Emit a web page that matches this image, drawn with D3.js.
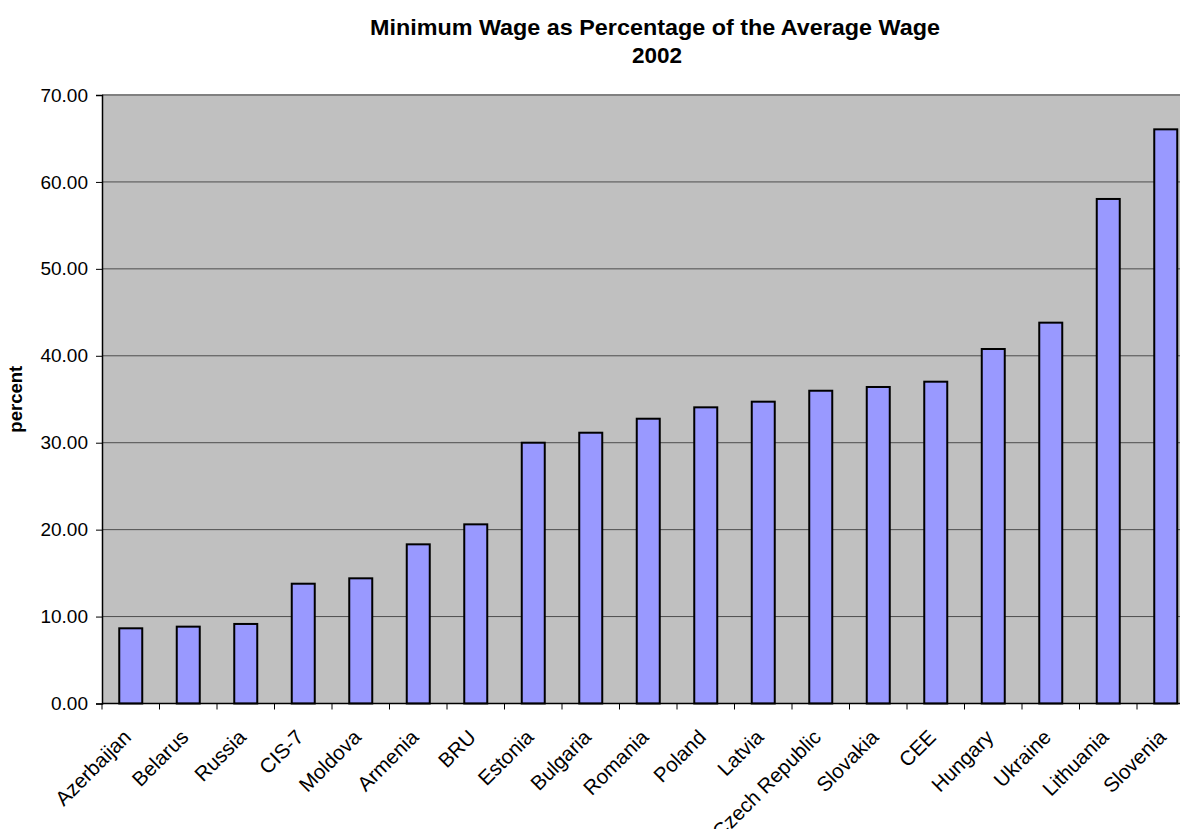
<!DOCTYPE html>
<html>
<head>
<meta charset="utf-8">
<script src="https://cdn.jsdelivr.net/npm/d3@7"></script>
<style>
  html, body { margin: 0; padding: 0; background: #ffffff; }
  svg { display: block; font-family: Arial, "Liberation Sans", Helvetica, sans-serif; }
</style>
</head>
<body>
<svg id="chart" width="1180" height="829"></svg>
<script>
// Minimum wage as a share of the average wage, 2002
const categories = ["Azerbaijan", "Belarus", "Russia", "CIS-7", "Moldova", "Armenia", "BRU",
  "Estonia", "Bulgaria", "Romania", "Poland", "Latvia", "Czech Republic", "Slovakia",
  "CEE", "Hungary", "Ukraine", "Lithuania", "Slovenia"];
const values = [8.65, 8.84, 9.15, 13.78, 14.40, 18.31, 20.61, 30.00, 31.15, 32.76, 34.07,
  34.72, 35.98, 36.41, 37.02, 40.78, 43.81, 58.04, 66.05];
const yTicks = [0, 10, 20, 30, 40, 50, 60, 70];
const titleLines = ["Minimum Wage as Percentage of the Average Wage", "2002"];
const yTitle = "percent";

const svg = d3.select("#chart");

// plot area (extends slightly past the right edge of the page)
const plot = { left: 102, right: 1194.5, top: 95, bottom: 703.5 };

const x = d3.scaleBand()
  .domain(categories)
  .range([plot.left, plot.right])
  .paddingInner(0.6)
  .paddingOuter(0.3);

const y = d3.scaleLinear()
  .domain([0, 70])
  .range([plot.bottom, plot.top]);

// grey plot background
svg.append("rect")
  .attr("x", plot.left).attr("y", plot.top)
  .attr("width", plot.right - plot.left).attr("height", plot.bottom - plot.top)
  .attr("fill", "#c0c0c0");

// horizontal gridlines
svg.append("g")
  .selectAll("line")
  .data(yTicks.filter(t => t > 0 && t < 70))
  .join("line")
  .attr("x1", plot.left).attr("x2", plot.right)
  .attr("y1", d => y(d)).attr("y2", d => y(d))
  .attr("stroke", "#4d4d4d").attr("stroke-width", 1);

// top border of the plot area
svg.append("line")
  .attr("x1", plot.left).attr("x2", plot.right)
  .attr("y1", y(70)).attr("y2", y(70))
  .attr("stroke", "#808080").attr("stroke-width", 2);

// bars
svg.append("g")
  .selectAll("rect")
  .data(categories.map((c, i) => ({ c, v: values[i] })))
  .join("rect")
  .attr("x", d => x(d.c))
  .attr("y", d => y(d.v))
  .attr("width", x.bandwidth())
  .attr("height", d => y(0) - y(d.v))
  .attr("fill", "#9999ff")
  .attr("stroke", "#000000")
  .attr("stroke-width", 2);

// y axis
const yAxis = d3.axisLeft(y)
  .tickValues(yTicks)
  .tickFormat(d3.format(".2f"))
  .tickSize(6)
  .tickPadding(8);

const gy = svg.append("g")
  .attr("transform", `translate(${plot.left},0)`)
  .call(yAxis);
gy.select(".domain").attr("stroke", "#000000").attr("stroke-width", 1.5);
gy.selectAll(".tick line").attr("stroke", "#000000");
gy.selectAll(".tick text")
  .attr("font-size", 19)
  .attr("font-family", "Arial, 'Liberation Sans', sans-serif")
  .attr("fill", "#000000");

// x axis line
svg.append("line")
  .attr("x1", plot.left).attr("x2", plot.right)
  .attr("y1", plot.bottom).attr("y2", plot.bottom)
  .attr("stroke", "#000000").attr("stroke-width", 1.5);

// x tick marks at category boundaries
const step = x.step();
const boundaries = categories.map(c => x(c) - step * x.paddingOuter());
boundaries.push(plot.right);
svg.append("g")
  .selectAll("line")
  .data(boundaries)
  .join("line")
  .attr("x1", d => d).attr("x2", d => d)
  .attr("y1", plot.bottom).attr("y2", plot.bottom + 6)
  .attr("stroke", "#000000").attr("stroke-width", 1);

// rotated category labels
svg.append("g")
  .selectAll("text")
  .data(categories)
  .join("text")
  .attr("transform", d => `translate(${x(d) + x.bandwidth() / 2 + 1.5},${plot.bottom + 35}) rotate(-45)`)
  .attr("text-anchor", "end")
  .attr("font-size", 20.5)
  .attr("fill", "#000000")
  .text(d => d);

// y axis title
svg.append("text")
  .attr("transform", `translate(22,${(plot.top + plot.bottom) / 2}) rotate(-90)`)
  .attr("text-anchor", "middle")
  .attr("font-size", 18.5)
  .attr("font-weight", "bold")
  .attr("fill", "#000000")
  .text(yTitle);

// chart title, two centred lines
svg.append("text")
  .attr("x", 655).attr("y", 35)
  .attr("text-anchor", "middle")
  .attr("font-size", 22.5)
  .attr("font-weight", "bold")
  .attr("textLength", 570)
  .attr("lengthAdjust", "spacingAndGlyphs")
  .text(titleLines[0]);
svg.append("text")
  .attr("x", 657).attr("y", 63)
  .attr("text-anchor", "middle")
  .attr("font-size", 22.5)
  .attr("font-weight", "bold")
  .text(titleLines[1]);
</script>
</body>
</html>
